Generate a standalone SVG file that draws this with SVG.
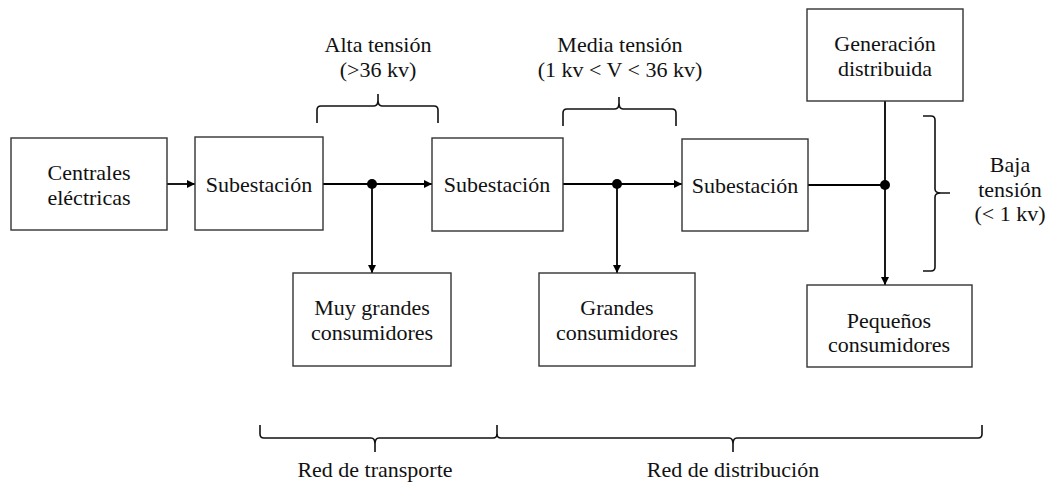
<svg xmlns="http://www.w3.org/2000/svg" width="1047" height="485" viewBox="0 0 1047 485">
<style>
.box{fill:#fff;stroke:#333;stroke-width:1.4}
.t{font-family:'Liberation Serif','Times New Roman',serif;font-size:22px;fill:#111;text-anchor:middle}
.ln{fill:none;stroke:#000;stroke-width:1.8}
.br{fill:none;stroke:#111;stroke-width:1.6}
</style>
<defs>
<marker id="ah" viewBox="0 0 10 10" refX="10" refY="5" markerWidth="8" markerHeight="8" markerUnits="userSpaceOnUse" orient="auto">
<path d="M0,0 L10,5 L0,10 z" fill="#000"/>
</marker>
</defs>
<rect width="1047" height="485" fill="#fff"/>
<g id="connectors">
<line class="ln" x1="167" y1="184" x2="195" y2="184" marker-end="url(#ah)"/>
<line class="ln" x1="323" y1="184" x2="432" y2="184" marker-end="url(#ah)"/>
<line class="ln" x1="372" y1="184" x2="372" y2="273" marker-end="url(#ah)"/>
<line class="ln" x1="563" y1="184" x2="682" y2="184" marker-end="url(#ah)"/>
<line class="ln" x1="617" y1="184" x2="617" y2="273" marker-end="url(#ah)"/>
<line class="ln" x1="808" y1="185" x2="885" y2="185"/>
<line class="ln" x1="885" y1="101" x2="885" y2="285" marker-end="url(#ah)"/>
<circle cx="372" cy="184" r="5" fill="#000"/>
<circle cx="617" cy="184" r="5" fill="#000"/>
<circle cx="885" cy="185" r="5" fill="#000"/>
</g>
<g id="centrales"><rect class="box" x="11" y="138" width="156" height="92"/><text class="t" x="89" y="180">Centrales</text><text class="t" x="89" y="205">eléctricas</text></g>
<g id="sub1"><rect class="box" x="195" y="137" width="128" height="93"/><text class="t" x="259" y="192">Subestación</text></g>
<g id="sub2"><rect class="box" x="432" y="138" width="131" height="93"/><text class="t" x="497" y="192">Subestación</text></g>
<g id="sub3"><rect class="box" x="682" y="139" width="126" height="92"/><text class="t" x="745" y="193">Subestación</text></g>
<g id="muygrandes"><rect class="box" x="293" y="273" width="158" height="93"/><text class="t" x="372" y="315">Muy grandes</text><text class="t" x="372" y="340">consumidores</text></g>
<g id="grandes"><rect class="box" x="539" y="273" width="156" height="93"/><text class="t" x="617" y="315">Grandes</text><text class="t" x="617" y="340">consumidores</text></g>
<g id="generacion"><rect class="box" x="807" y="9" width="156" height="92"/><text class="t" x="885" y="51">Generación</text><text class="t" x="885" y="76">distribuida</text></g>
<g id="pequenos"><rect class="box" x="807" y="285" width="165" height="82"/><text class="t" x="889" y="328">Pequeños</text><text class="t" x="889" y="352">consumidores</text></g>
<g id="alta">
<path class="br" d="M317,123 L317,110 Q317,106 321,106 L374,106 Q378,106 378,100 L378,94 M378,100 Q378,106 382,106 L434,106 Q438,106 438,110 L438,123"/>
<text class="t" x="378" y="52">Alta tensión</text><text class="t" x="378" y="77">(&gt;36 kv)</text>
</g>
<g id="media">
<path class="br" d="M563,126 L563,113 Q563,109 567,109 L615,109 Q619,109 619,103 L619,97 M619,103 Q619,109 623,109 L672,109 Q676,109 676,113 L676,126"/>
<text class="t" x="620" y="52">Media tensión</text><text class="t" x="620" y="77">(1 kv &lt; V &lt; 36 kv)</text>
</g>
<g id="baja">
<path class="br" d="M923,116 L931,116 Q935,116 935,120 L935,189 Q935,193 941,193 L950,193 M941,193 Q935,193 935,197 L935,267 Q935,271 931,271 L923,271"/>
<text class="t" x="1010" y="172">Baja</text><text class="t" x="1010" y="197">tensión</text><text class="t" x="1010" y="221">(&lt; 1 kv)</text>
</g>
<g id="transporte">
<path class="br" d="M260,425 L260,434 Q260,438 264,438 L371,438 Q375,438 375,444 L375,452 M375,444 Q375,438 379,438 L493,438 Q497,438 497,434 L497,425"/>
<text class="t" x="375" y="477">Red de transporte</text>
</g>
<g id="distribucion">
<path class="br" d="M497,434 Q497,438 501,438 L729,438 Q733,438 733,444 L733,452 M733,444 Q733,438 737,438 L978,438 Q982,438 982,434 L982,425"/>
<text class="t" x="733" y="477">Red de distribución</text>
</g>
</svg>
